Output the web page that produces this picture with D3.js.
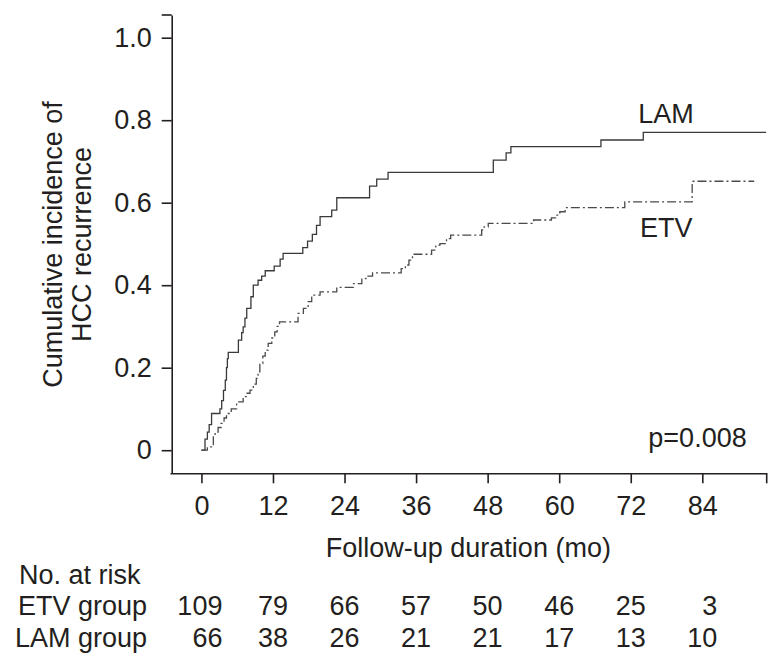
<!DOCTYPE html>
<html>
<head>
<meta charset="utf-8">
<script src="https://cdn.jsdelivr.net/npm/d3@7/dist/d3.min.js"></script>
<style>
  html, body { margin: 0; padding: 0; background: #fff; }
  svg { display: block; }
  text { font-family: "Liberation Sans", Arial, sans-serif; fill: #231f20; }
</style>
</head>
<body>
<svg id="chart" width="784" height="667"></svg>
<script>
// ---- data ----
const xTicks = [0, 12, 24, 36, 48, 60, 72, 84];
const yTicks = [0, 0.2, 0.4, 0.6, 0.8, 1.0];

const lamTime = [0, 0.6, 1.0, 1.3, 1.7, 3.1, 3.4, 3.7, 4.0, 4.2, 4.35, 4.5, 6.2, 6.75, 7.0, 7.3, 7.6, 8.3, 8.7, 9.5, 10.1, 10.7, 12.2, 13.2, 13.7, 17.0, 17.8, 18.6, 19.3, 19.9, 21.85, 22.7, 28.2, 29.4, 31.3, 48.95, 51.1, 51.9, 67.0, 74.1, 94.7];
const lamCum  = [0, 0.027, 0.044, 0.062, 0.089, 0.10, 0.12, 0.145, 0.17, 0.20, 0.222, 0.237, 0.267, 0.285, 0.299, 0.32, 0.344, 0.372, 0.400, 0.412, 0.422, 0.435, 0.446, 0.463, 0.477, 0.491, 0.507, 0.523, 0.545, 0.566, 0.582, 0.612, 0.640, 0.657, 0.6735, 0.703, 0.721, 0.736, 0.752, 0.7705, 0.7705];

const etvTime = [0, 1.0, 2.0, 2.3, 2.8, 3.3, 3.8, 4.2, 5.0, 5.9, 7.0, 7.5, 8.15, 8.7, 9.2, 9.5, 9.8, 10.3, 10.7, 11.2, 11.8, 12.3, 12.7, 13.1, 16.2, 17.1, 17.9, 18.5, 19.9, 22.7, 25.5, 26.9, 27.6, 28.7, 33.5, 34.2, 34.8, 35.4, 38.6, 39.3, 40.0, 41.1, 41.8, 47.0, 47.4, 48.1, 55.7, 58.7, 59.4, 60.1, 61.0, 71.0, 82.3, 92.7];
const etvCum  = [0, 0.008, 0.036, 0.044, 0.055, 0.065, 0.078, 0.089, 0.10, 0.117, 0.13, 0.138, 0.1455, 0.16, 0.174, 0.19, 0.21, 0.228, 0.2425, 0.259, 0.272, 0.287, 0.30, 0.311, 0.3315, 0.344, 0.36, 0.376, 0.384, 0.3946, 0.404, 0.416, 0.422, 0.430, 0.44, 0.449, 0.461, 0.475, 0.485, 0.497, 0.501, 0.513, 0.5215, 0.534, 0.5416, 0.55, 0.558, 0.563, 0.57, 0.578, 0.588, 0.602, 0.652, 0.652];

const riskTimes = [0, 12, 24, 36, 48, 60, 72, 84];
const etvRisk = [109, 79, 66, 57, 50, 46, 25, 3];
const lamRisk = [66, 38, 26, 21, 21, 17, 13, 10];

const pText = "p=0.008";
const yTitle = ["Cumulative incidence of", "HCC recurrence"];
const xTitle = "Follow-up duration (mo)";

// ---- drawing ----
const svg = d3.select("#chart");
const FS = 27;

const x = d3.scaleLinear().domain([-5.27, 94.8]).range([170, 766.7]);
const y = d3.scaleLinear().domain([-0.056, 1.055]).range([473.3, 15]);

const axisColor = "#231f20";

// Y axis
const yAxis = d3.axisLeft(y).tickValues(yTicks).tickSize(10).tickSizeOuter(0).tickPadding(10)
  .tickFormat(d => d === 0 ? "0" : d3.format(".1f")(d));
const gy = svg.append("g").attr("transform", `translate(${x.range()[0] + 1.7},0)`).call(yAxis);
gy.select(".domain").attr("stroke", axisColor).attr("stroke-width", 1.6);
gy.selectAll(".tick line").attr("stroke", axisColor).attr("stroke-width", 1.6);
gy.selectAll(".tick text").attr("font-size", FS).attr("font-family", "Liberation Sans, Arial, sans-serif").attr("fill", axisColor);
// top cap
gy.append("line").attr("x1", -10).attr("x2", 0).attr("y1", y.range()[1]).attr("y2", y.range()[1])
  .attr("stroke", axisColor).attr("stroke-width", 1.6);

// X axis
const xAxis = d3.axisBottom(x).tickValues(xTicks).tickSize(10).tickSizeOuter(0).tickPadding(13);
const gx = svg.append("g").attr("transform", `translate(0,${y.range()[0]})`).call(xAxis);
gx.select(".domain").attr("stroke", axisColor).attr("stroke-width", 1.6);
gx.selectAll(".tick line").attr("stroke", axisColor).attr("stroke-width", 1.6);
gx.selectAll(".tick text").attr("font-size", FS).attr("font-family", "Liberation Sans, Arial, sans-serif").attr("fill", axisColor);
// right end cap
gx.append("line").attr("x1", x.range()[1]).attr("x2", x.range()[1]).attr("y1", 0).attr("y2", 10)
  .attr("stroke", axisColor).attr("stroke-width", 1.6);

// Curves
const line = d3.line().x(d => x(d[0])).y(d => y(d[1])).curve(d3.curveStepAfter);
const lamData = lamTime.map((t, i) => [t, lamCum[i]]);
const etvData = etvTime.map((t, i) => [t, etvCum[i]]);

svg.append("path").datum(lamData).attr("d", line)
  .attr("fill", "none").attr("stroke", "#3a3a3a").attr("stroke-width", 1.3);
svg.append("path").datum(etvData).attr("d", line)
  .attr("fill", "none").attr("stroke", "#4a4a4a").attr("stroke-width", 1.3)
  .attr("stroke-dasharray", "9,3,2,3");

// Curve labels
svg.append("text").attr("x", 638.3).attr("y", 122.7).attr("font-size", FS).text("LAM");
svg.append("text").attr("x", 640).attr("y", 237.3).attr("font-size", FS).text("ETV");

// p value
svg.append("text").attr("x", 746.7).attr("y", 446.7).attr("font-size", FS).attr("text-anchor", "end").text(pText);

// Y title
const yt = svg.append("text").attr("transform", "translate(0,244.5) rotate(-90)").attr("font-size", FS).attr("text-anchor", "middle");
yt.append("tspan").attr("x", 0).attr("y", 61.7).text(yTitle[0]);
yt.append("tspan").attr("x", 0).attr("y", 90.7).text(yTitle[1]);

// X title
svg.append("text").attr("x", (x.range()[0] + x.range()[1]) / 2).attr("y", 557.3)
  .attr("font-size", FS).attr("text-anchor", "middle").text(xTitle);

// Number at risk table
svg.append("text").attr("x", 19).attr("y", 584).attr("font-size", FS).text("No. at risk");
svg.append("text").attr("x", 147).attr("y", 615).attr("font-size", FS).attr("text-anchor", "end").text("ETV group");
svg.append("text").attr("x", 147).attr("y", 646.7).attr("font-size", FS).attr("text-anchor", "end").text("LAM group");

const colRight = t => x(t) + (t === 0 ? 21 : 15);
svg.selectAll(".etvRisk").data(etvRisk).enter().append("text")
  .attr("x", (d, i) => colRight(riskTimes[i])).attr("y", 615)
  .attr("font-size", FS).attr("text-anchor", "end").text(d => d);
svg.selectAll(".lamRisk").data(lamRisk).enter().append("text")
  .attr("x", (d, i) => colRight(riskTimes[i])).attr("y", 646.7)
  .attr("font-size", FS).attr("text-anchor", "end").text(d => d);
</script>
</body>
</html>
